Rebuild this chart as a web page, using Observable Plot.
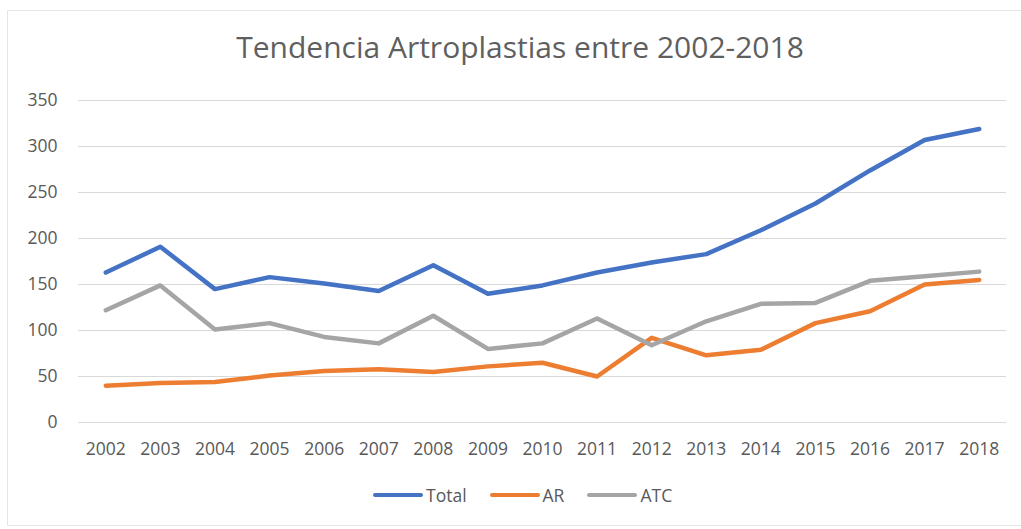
<!DOCTYPE html>
<html>
<head>
<meta charset="utf-8">
<script src="https://cdn.jsdelivr.net/npm/d3@7"></script>
<script src="https://cdn.jsdelivr.net/npm/@observablehq/plot@0.6"></script>
<style>
  body { margin: 0; background: #fff; }
  #wrap { position: relative; width: 1021px; height: 529px; overflow: hidden; font-family: "Open Sans", sans-serif; }
  #frame { position: absolute; left: 7px; top: 10px; width: 1030px; height: 516px; border: 1.5px solid #e6e6e6; box-sizing: border-box; }
  #title { position: absolute; top: 26px; left: 0; width: 1040px; text-align: center; font-size: 30px; color: #5f5f5f; }
  #chart { position: absolute; top: 70px; left: 0; }
  #legend { position: absolute; top: 483px; left: 373px; display: flex; align-items: center; font-size: 17.5px; color: #595959; }
  .item { display: flex; align-items: center; margin-right: 23px; }
  .sw { width: 50px; height: 4px; border-radius: 2px; margin-right: 3px; }
</style>
</head>
<body>
<div id="wrap">
  <div id="frame"></div>
  <div id="title">Tendencia Artroplastias entre 2002-2018</div>
  <div id="chart"></div>
  <div id="legend"></div>
</div>
<script>
const years = [2002,2003,2004,2005,2006,2007,2008,2009,2010,2011,2012,2013,2014,2015,2016,2017,2018];
const total = [163,191,145,158,151,143,171,140,149,163,174,183,209,238,274,307,319];
const ar    = [40,43,44,51,56,58,55,61,65,50,92,73,79,108,121,150,155];
const atc   = [122,149,101,108,93,86,116,80,86,113,84,110,129,130,154,159,164];
const seriesNames = ["Total","AR","ATC"];
const seriesColors = ["#4472c4","#ed7d31","#a5a5a5"];
const yTicks = [0,50,100,150,200,250,300,350];

const rows = [];
[total, ar, atc].forEach((vals, s) => {
  vals.forEach((v, i) => rows.push({year: years[i], value: v, series: seriesNames[s]}));
});

const plot = Plot.plot({
  width: 1021,
  height: 400,
  marginTop: 30,
  marginBottom: 48,
  marginLeft: 78,
  marginRight: 15,
  style: {fontFamily: "'Open Sans', sans-serif", fontSize: "17.5px", color: "#595959", background: "transparent"},
  x: {domain: [2001.5, 2018.5], ticks: years, tickFormat: d => String(d), tickSize: 0, tickPadding: 20, label: null},
  y: {domain: [0, 350], ticks: yTicks, tickSize: 0, tickPadding: 21, label: null},
  color: {domain: seriesNames, range: seriesColors},
  marks: [
    Plot.ruleY(yTicks, {stroke: "#d9d9d9", strokeWidth: 1}),
    Plot.axisX({ticks: years, tickFormat: d => String(d), tickSize: 0, tickPadding: 20, fill: "#595959", fontSize: 17.5}),
    Plot.axisY({ticks: yTicks, tickSize: 0, tickPadding: 21, fill: "#595959", fontSize: 17.5}),
    Plot.line(rows, {x: "year", y: "value", z: "series", stroke: "series", strokeWidth: 4.5, strokeLinejoin: "round", strokeLinecap: "round"})
  ]
});
document.getElementById("chart").appendChild(plot);

const legend = document.getElementById("legend");
seriesNames.forEach((n, i) => {
  const it = document.createElement("div");
  it.className = "item";
  const sw = document.createElement("div");
  sw.className = "sw";
  sw.style.background = seriesColors[i];
  const t = document.createElement("span");
  t.textContent = n;
  it.appendChild(sw); it.appendChild(t);
  legend.appendChild(it);
});
</script>
</body>
</html>
